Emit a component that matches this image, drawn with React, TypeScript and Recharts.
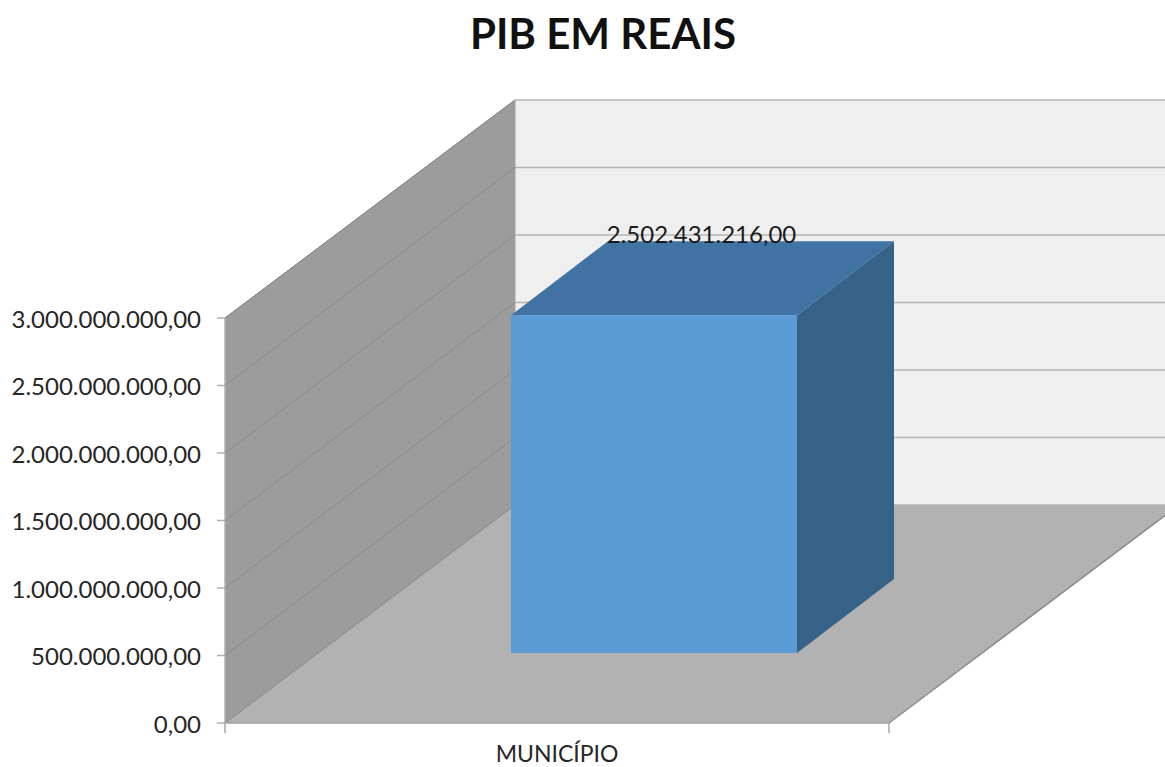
import { BarChart, Bar, XAxis, YAxis, CartesianGrid, ReferenceArea, LabelList } from "recharts";

const categories = ["MUNICÍPIO"];
const pibValues = [2502431216];
const yTicks = [0, 500000000, 1000000000, 1500000000, 2000000000, 2500000000, 3000000000];

const chartData = categories.map((name, i) => ({ name, pib: pibValues[i] }));

const WIDTH = 1165;
const HEIGHT = 767;
const FONT = "Lato, sans-serif";

// oblique projection of the depth axis
const WALL_DX = 290;
const WALL_DY = 218;
const BAR_SHIFT_X = 97;
const BAR_SHIFT_Y = 70;
const BAR_DX = 97;
const BAR_DY = 74;

const brl = (v: number) =>
  v.toLocaleString("pt-BR", { minimumFractionDigits: 2, maximumFractionDigits: 2 });

const pts = (list: number[][]) => list.map((p) => p.join(",")).join(" ");

// walls and floor hang off the plot rectangle
const Room = ({ x, y, width, height }: any) => {
  const b = y + height;
  const r = x + width;
  return (
    <g>
      <polygon points={pts([[x + WALL_DX, y - WALL_DY], [r + WALL_DX, y - WALL_DY], [r + WALL_DX, b - WALL_DY], [x + WALL_DX, b - WALL_DY]])} fill="#efefef" />
      <polygon points={pts([[x, y], [x + WALL_DX, y - WALL_DY], [x + WALL_DX, b - WALL_DY], [x, b]])} fill="#9c9c9c" />
      <polygon points={pts([[x, b], [r, b], [r + WALL_DX, b - WALL_DY], [x + WALL_DX, b - WALL_DY]])} fill="#b2b2b2" />
      <line x1={x} y1={y} x2={x} y2={b} stroke="#b0b0b0" strokeWidth={1.5} />
      <line x1={x} y1={y} x2={x + WALL_DX} y2={y - WALL_DY} stroke="#8c8c8c" />
      <line x1={x + WALL_DX} y1={y - WALL_DY} x2={x + WALL_DX} y2={b - WALL_DY} stroke="#a6a6a6" />
      <line x1={x} y1={b} x2={x + WALL_DX} y2={b - WALL_DY} stroke="#a0a0a0" />
      <line x1={r} y1={b} x2={r + WALL_DX} y2={b - WALL_DY} stroke="#8c8c8c" strokeWidth={1.5} />
    </g>
  );
};

const GridLine = ({ x1, y1, x2, key }: any) => (
  <g key={key}>
    <line x1={x1} y1={y1} x2={x1 + WALL_DX} y2={y1 - WALL_DY} stroke="#888888" strokeWidth={1} />
    <line x1={x1 + WALL_DX} y1={y1 - WALL_DY} x2={x2 + WALL_DX} y2={y1 - WALL_DY} stroke="#b4b4b4" strokeWidth={1.5} />
  </g>
);

const Box3D = ({ x, y, width, height }: any) => {
  const l = x + BAR_SHIFT_X;
  const r = l + width;
  const t = y - BAR_SHIFT_Y;
  const b = t + height;
  return (
    <g>
      <polygon points={pts([[l, t], [r, t], [r + BAR_DX, t - BAR_DY], [l + BAR_DX, t - BAR_DY]])} fill="#4072a3" />
      <polygon points={pts([[r, t], [r + BAR_DX, t - BAR_DY], [r + BAR_DX, b - BAR_DY], [r, b]])} fill="#376287" />
      <rect x={l} y={t} width={width} height={height} fill="#5b9bd5" />
    </g>
  );
};

const ValueLabel = ({ x, y, width, value }: any) => (
  <text
    x={x + width / 2 + BAR_SHIFT_X + BAR_DX / 2 - 1}
    y={y - BAR_SHIFT_Y - BAR_DY - 4}
    textAnchor="middle"
    dominantBaseline="middle"
    fontFamily={FONT}
    fontSize={24}
    fill="#1a1a1a"
  >
    {brl(value)}
  </text>
);

const CategoryTick = ({ x, y, payload }: any) => (
  <g>
    <line x1={x - 332} y1={y - 8} x2={x - 332} y2={y + 2} stroke="#a6a6a6" strokeWidth={1.5} />
    <line x1={x + 332} y1={y - 8} x2={x + 332} y2={y + 2} stroke="#a6a6a6" strokeWidth={1.5} />
    <text x={x} y={y + 31} textAnchor="middle" fontFamily={FONT} fontSize={23} fill="#262626">
      {payload.value}
    </text>
  </g>
);

export default function App() {
  return (
    <div style={{ position: "absolute", left: 0, top: 0, width: WIDTH, height: HEIGHT, background: "#fff", overflow: "hidden" }}>
      <div
        style={{
          position: "absolute",
          left: 0,
          width: 1206,
          top: 9,
          textAlign: "center",
          fontFamily: FONT,
          fontWeight: 700,
          fontSize: 42,
          lineHeight: "48px",
          color: "#111",
        }}
      >
        PIB EM REAIS
      </div>
      <BarChart
        width={WIDTH}
        height={HEIGHT}
        data={chartData}
        margin={{ top: 318, right: 276, bottom: 0, left: 0 }}
        barSize={286}
      >
        <ReferenceArea y1={0} y2={3000000000} shape={Room} fill="none" stroke="none" zIndex={-200} />
        <CartesianGrid vertical={false} horizontal={GridLine} zIndex={-100} />
        <XAxis
          dataKey="name"
          height={44}
          tickLine={false}
          axisLine={{ stroke: "#a0a0a0", strokeWidth: 1.5 }}
          tick={CategoryTick}
        />
        <YAxis
          width={225}
          domain={[0, 3000000000]}
          ticks={yTicks}
          tickFormatter={brl}
          tickSize={8}
          tickMargin={16}
          interval={0}
          axisLine={false}
          tickLine={{ stroke: "#b0b0b0", strokeWidth: 1.5 }}
          tick={{ fontFamily: FONT, fontSize: 24, fill: "#262626", dy: 1 }}
        />
        <Bar dataKey="pib" shape={Box3D} isAnimationActive={false}>
          <LabelList dataKey="pib" content={ValueLabel} />
        </Bar>
      </BarChart>
    </div>
  );
}
